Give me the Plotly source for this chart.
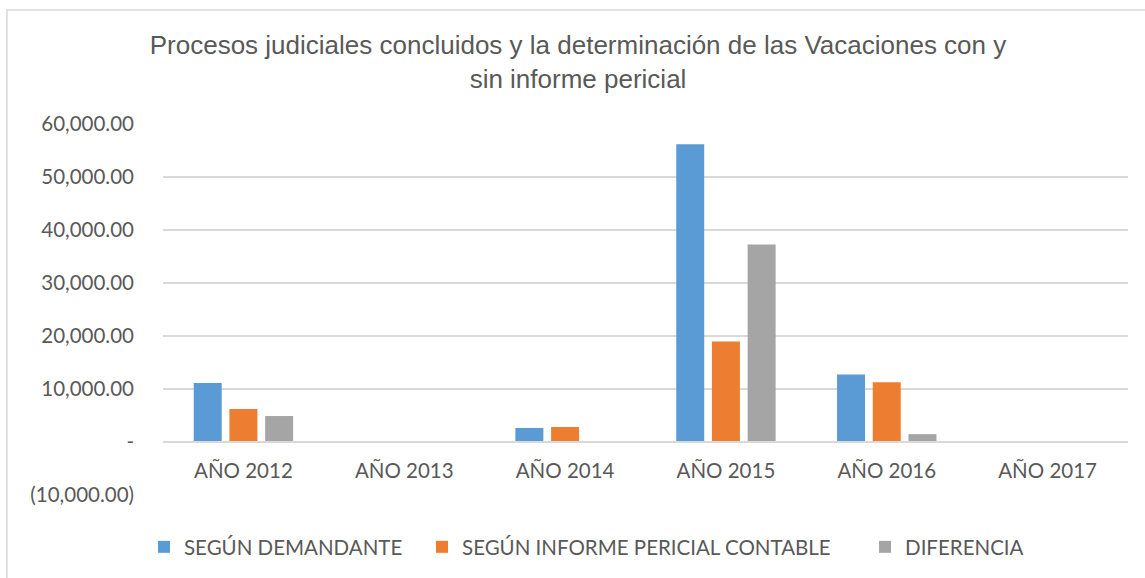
import plotly.graph_objects as go

# chart data
years = ["AÑO 2012", "AÑO 2013", "AÑO 2014", "AÑO 2015", "AÑO 2016", "AÑO 2017"]
segun_demandante = [11150, 0, 2650, 56200, 12750, 0]
segun_informe = [6250, 0, 2830, 18950, 11270, 0]
diferencia = [4900, 0, -180, 37250, 1480, 0]

tick_vals = [-10000, 0, 10000, 20000, 30000, 40000, 50000, 60000]
tick_text = ["(10,000.00)", "-", "10,000.00", "20,000.00", "30,000.00",
             "40,000.00", "50,000.00", "60,000.00"]

title_text = ("Procesos judiciales concluidos y la determinación de las Vacaciones con y"
              "<br>sin informe pericial")

text_color = "#595959"
grid_color = "#d9d9d9"
label_font = "Lato, Open Sans, sans-serif"
label_size = 20.5

fig = go.Figure()
series = [
    ("SEGÚN DEMANDANTE", segun_demandante, "#5B9BD5", "legend", -0.0197),
    ("SEGÚN INFORME PERICIAL CONTABLE", segun_informe, "#ED7D31", "legend2", 0.2684),
    ("DIFERENCIA", diferencia, "#A5A5A5", "legend3", 0.7275),
]
legend_layouts = {}
for name, values, color, leg, leg_x in series:
    fig.add_trace(go.Bar(
        x=years, y=values, name=name, legend=leg,
        marker=dict(color=color, line=dict(width=0)),
    ))
    # one legend per series so each entry sits where the reference has it
    legend_layouts[leg] = dict(
        orientation="h", x=leg_x, xanchor="left",
        yref="container", y=1 - 547 / 578, yanchor="middle",
        font=dict(family=label_font, size=label_size, color=text_color),
        bgcolor="rgba(0,0,0,0)",
    )

# outer chart frame (only top and left edges are visible in the reference)
fig.add_shape(type="rect", xref="paper", yref="paper",
              x0=-0.1617, x1=1.3, y0=-0.6, y1=1.307,
              line=dict(color=grid_color, width=1.5), layer="below")

fig.update_layout(
    width=1145, height=578,
    margin=dict(l=163, r=17, t=124, b=83, autoexpand=False),
    paper_bgcolor="white", plot_bgcolor="white",
    barmode="group", bargap=0.334, bargroupgap=0.216,
    title=dict(
        text=title_text, x=578 / 1145, xref="container", xanchor="center",
        yref="container", y=1 - 54 / 578, yanchor="middle",
        font=dict(family="Liberation Sans, Arial, sans-serif", size=26, color=text_color),
    ),
    showlegend=True,
    **legend_layouts,
    xaxis=dict(
        anchor="free", position=10000 / 70000, automargin=False,
        showline=True, linecolor=grid_color, linewidth=1.5,
        showgrid=False, ticks="",
        tickfont=dict(family=label_font, size=label_size, color=text_color),
        ticklabelstandoff=11,
    ),
    yaxis=dict(
        range=[-10000, 60000], automargin=False,
        tickvals=tick_vals, ticktext=tick_text,
        showgrid=True, gridcolor=grid_color, gridwidth=1.5,
        zeroline=False, showline=False, ticks="",
        tickfont=dict(family=label_font, size=label_size, color=text_color),
        ticklabelstandoff=28,
    ),
)

# the page body has a default 8px margin; drop it so the figure fills the window
fig.write_html("out.html", config={"displayModeBar": False},
               post_script="document.body.style.margin = '0';")
